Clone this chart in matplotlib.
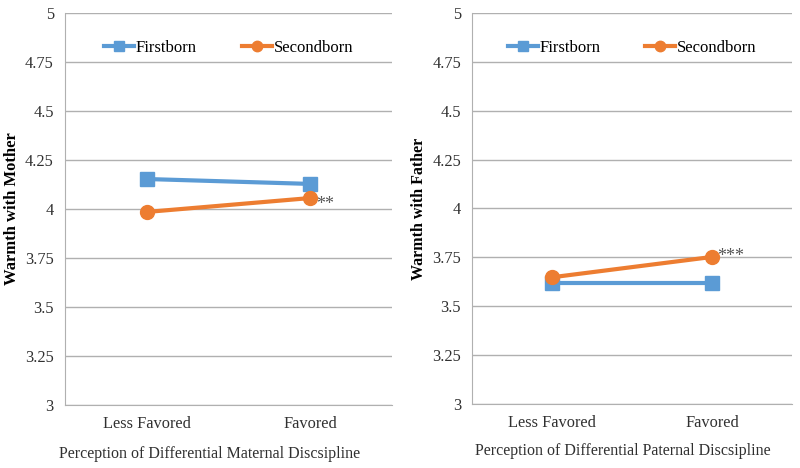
import matplotlib
matplotlib.use("Agg")
import matplotlib.pyplot as plt

categories = ["Less Favored", "Favored"]
mother_first = [4.153, 4.128]
mother_second = [3.985, 4.056]
father_first = [3.617, 3.617]
father_second = [3.648, 3.752]
yticks = [3, 3.25, 3.5, 3.75, 4, 4.25, 4.5, 4.75, 5]
ytick_labels = ["3", "3.25", "3.5", "3.75", "4", "4.25", "4.5", "4.75", "5"]

plt.rcParams['font.family'] = ['Liberation Serif', 'DejaVu Serif']
BLUE = "#5B9BD5"
ORANGE = "#ED7D31"
GRID = "#B0B0B0"

fig = plt.figure(figsize=(8, 4.68), dpi=100)
ax1 = fig.add_axes([0.0812, 0.1346, 0.409, 0.8376])
ax2 = fig.add_axes([0.590, 0.137, 0.400, 0.835])

def style(ax, first, second, ylabel, xlabel, stars, star_off, ylab_size, xlab_pos):
    x = list(range(len(categories)))
    ax.plot(x, first, color=BLUE, lw=3, marker="s", ms=10, label="Firstborn", zorder=3)
    ax.plot(x, second, color=ORANGE, lw=3, marker="o", ms=10, label="Secondborn", zorder=4)
    ax.set_xlim(-0.5, 1.5)
    ax.set_ylim(3, 5)
    ax.set_yticks(yticks)
    ax.set_yticklabels(ytick_labels)
    ax.set_xticks(x)
    ax.set_xticklabels(categories)
    ax.grid(axis="y", color=GRID, lw=1)
    ax.set_axisbelow(True)
    for s in ["top", "right"]:
        ax.spines[s].set_visible(False)
    ax.spines["bottom"].set_color(GRID)
    ax.spines["left"].set_color(GRID)
    ax.tick_params(axis="both", length=0, labelsize=11.8, colors="#303030", pad=8)
    ax.set_ylabel(ylabel, fontsize=ylab_size, fontweight="bold", labelpad=4)
    ax.set_xlabel(xlabel, fontsize=11.5, color="#303030")
    ax.xaxis.set_label_coords(xlab_pos[0], xlab_pos[1])
    ax.annotate(stars, (1, second[1]), xytext=star_off, textcoords="offset points",
                fontsize=13, color="#555555", va="center", ha="left")
    ax.legend(loc="upper center", bbox_to_anchor=(0.5, 0.97), ncol=2, frameon=False,
              fontsize=12, markerscale=0.75, handlelength=1.8, columnspacing=2.7,
              handletextpad=0.1)

style(ax1, mother_first, mother_second, "Warmth with Mother",
      "Perception of Differential Maternal Discsipline", "**", (4, -5), 12, (0.443, -0.105))
style(ax2, father_first, father_second, "Warmth with Father",
      "Perception of Differential Paternal Discsipline", "***", (4, 0), 11.5, (0.472, -0.1))

fig.savefig("out.png", dpi=100)
